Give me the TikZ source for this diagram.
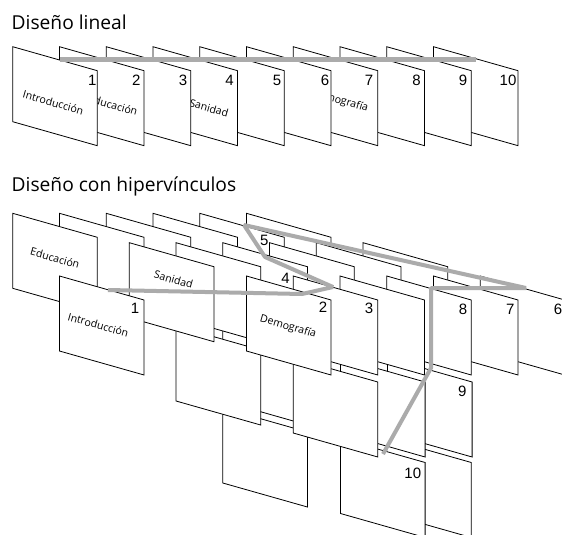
\documentclass[tikz,border=0pt]{standalone}
\usepackage{fontspec}
\setmainfont{Open Sans}
\newfontfamily\numfont{Liberation Sans}
\tikzset{
  pg/.style={draw=black, fill=white, line width=0.8pt, line join=miter},
  lbl/.style={font=\fontsize{10.6}{13}\selectfont, rotate=-15.84, inner sep=0pt},
  num/.style={font=\numfont\fontsize{15}{17}\selectfont, anchor=base east, inner sep=0pt},
  ttl/.style={font=\fontsize{19.2}{22}\selectfont, anchor=base west, inner sep=0pt},
  link/.style={draw=black!33, line width=4pt, line join=bevel},
  linkl/.style={draw=black!33, line width=5pt},
}
\newcommand\pg[2]{\filldraw[pg] (#1,#2) -- ++(84.6,24) -- ++(0,75) -- ++(-84.6,-24) -- cycle;}
\begin{document}
\begin{tikzpicture}[x=1pt,y=-1pt]
\useasboundingbox (0,0) rectangle (562,535);
\fill[white] (0,0) rectangle (562,535);
% ---------- titles
\node[ttl] (t1) at (11.5,29.3) {Diseño lineal};
\node[ttl] (t2) at (11.5,191.7) {Diseño con hipervínculos};
% ---------- linear design
\pg{433.45}{46.7} \node[num] (n10) at (516.6,85) {10};
\pg{386.7}{46.7}  \node[num] (n9) at (467.3,85) {9};
\pg{339.95}{46.7} \node[num] (n8) at (420.9,85) {8};
\pg{293.2}{46.7}  \node[num] (n7) at (373.3,85) {7};
\node[lbl] (l7) at (340,101) {Demografía};
\pg{246.45}{46.7} \node[num] (n6) at (329.3,85) {6};
\pg{199.7}{46.7}  \node[num] (n5) at (281.5,85) {5};
\pg{152.95}{46.7} \node[num] (n4) at (233.8,85) {4};
\node[lbl] (l4) at (209,108) {Sanidad};
\pg{106.2}{46.7}  \node[num] (n3) at (187.3,85) {3};
\pg{59.45}{46.7}  \node[num] (n2) at (140.7,85) {2};
\node[lbl] (l2) at (113,105) {Educación};
\pg{12.7}{46.7}   \node[num] (n1) at (96.7,85) {1};
\node[lbl] (l1) at (53.3,102.5) {Introducción};
\coordinate (la) at (60,60);
\coordinate (lb) at (476,60);
\draw[linkl] (la) -- (lb);
% ---------- hypertext design
% deck A
\pg{246.45}{213.3}
\pg{199.7}{213.3} \node[num] (h5) at (268.6,245) {5};
\pg{152.95}{213.3}
\pg{106.2}{213.3}
\pg{59.45}{213.3}
\pg{12.7}{213.3} \node[lbl] (hEdu) at (55,258) {Educación};
% deck B3, B2
\pg{222.8}{408}
\pg{222.8}{326}
\pg{176.05}{326}
% deck B
\pg{363.05}{242.7}
\pg{316.3}{242.7}
\pg{269.55}{242.7}
\pg{222.8}{242.7} \node[num] (h4) at (290,283.3) {4};
\pg{176.05}{242.7}
\pg{129.3}{242.7} \node[lbl] (hSan) at (173.5,279.5) {Sanidad};
% deck C3, C2
\pg{386.7}{438.5}
\pg{340.5}{438.5} \node[num] (h10) at (421.3,478.3) {10};
\pg{387.5}{358} \node[num] (h9) at (466.6,396.7) {9};
\pg{340.5}{358}
\pg{293.2}{358}
% deck C
\pg{480.2}{276} \node[num] (h6) at (562.3,314.5) {6};
\pg{433.45}{276} \node[num] (h7) at (514.6,314.5) {7};
\pg{386.7}{276} \node[num] (h8) at (467.3,314) {8};
\pg{339.95}{276}
\pg{293.2}{276} \node[num] (h3) at (373.3,313.3) {3};
\pg{246.45}{276} \node[num] (h2) at (327.3,312.3) {2};
\node[lbl] (hDem) at (288,327) {Demografía};
\pg{59.45}{276} \node[num] (h1) at (139.4,313) {1};
\node[lbl] (hInt) at (98.3,325) {Introducción};
% links
\coordinate (p1) at (108,290);
\coordinate (p2) at (302,294);
\coordinate (p3) at (333,287);
\coordinate (p4) at (265,257);
\coordinate (p5) at (244,225);
\coordinate (p6) at (526,288);
\coordinate (p7) at (431,288);
\coordinate (p8) at (431,368);
\coordinate (p9) at (383,454);
\draw[link] (p1) -- (p2) -- (p3) -- (p4) -- (p5) -- (p6) -- (p7) -- (p8) -- (p9);
\end{tikzpicture}
\end{document}
